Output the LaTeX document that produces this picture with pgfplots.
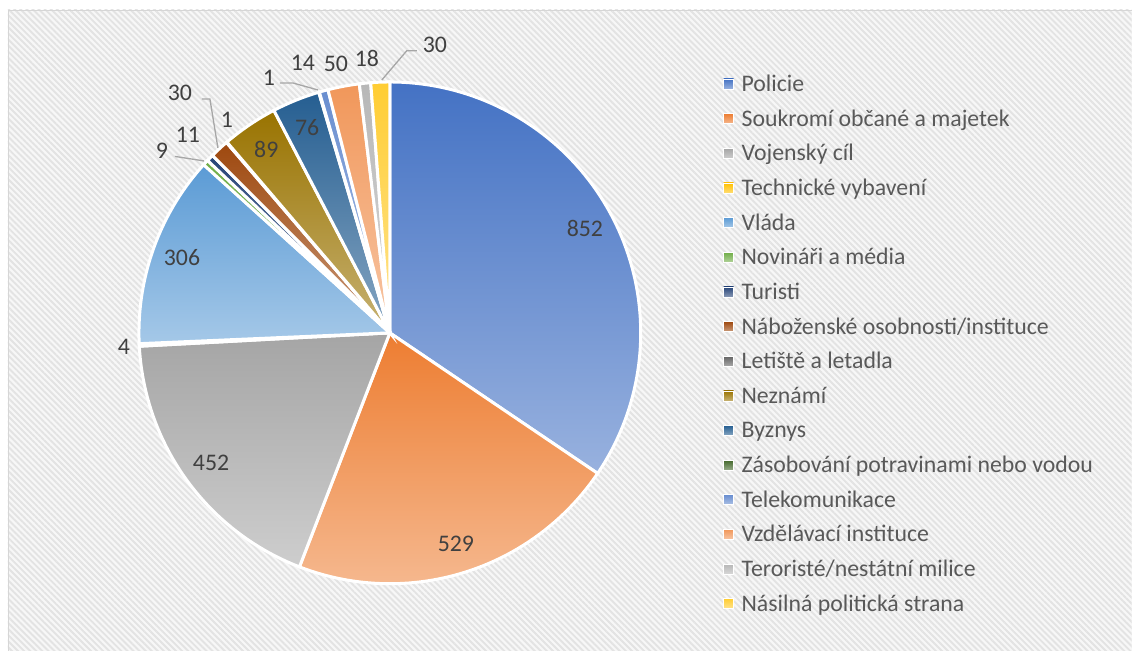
\documentclass[border=0pt]{standalone}
\usepackage{pgfplots}
\pgfplotsset{compat=1.18}
\usepackage{pgfplotstable}
\usepackage{fontspec}
\setmainfont{Carlito}
\usetikzlibrary{patterns.meta}

\definecolor{s0}{HTML}{4472C4}
\definecolor{s1}{HTML}{ED7D31}
\definecolor{s2}{HTML}{A5A5A5}
\definecolor{s3}{HTML}{FFC000}
\definecolor{s4}{HTML}{5B9BD5}
\definecolor{s5}{HTML}{70AD47}
\definecolor{s6}{HTML}{264478}
\definecolor{s7}{HTML}{9E480E}
\definecolor{s8}{HTML}{636363}
\definecolor{s9}{HTML}{997300}
\definecolor{s10}{HTML}{255E91}
\definecolor{s11}{HTML}{43682B}
\definecolor{s12}{HTML}{698ED0}
\definecolor{s13}{HTML}{F1975A}
\definecolor{s14}{HTML}{B7B7B7}
\definecolor{s15}{HTML}{FFCD33}
\definecolor{lbltext}{HTML}{404040}
\definecolor{legtext}{HTML}{595959}
\definecolor{leader}{HTML}{A6A6A6}

\pgfplotstableread[col sep=comma]{
name,value
Policie,852
Soukromí občané a majetek,529
Vojenský cíl,452
Technické vybavení,4
Vláda,306
Novináři a média,9
Turisti,11
Náboženské osobnosti/instituce,30
Letiště a letadla,1
Neznámí,89
Byznys,76
Zásobování potravinami nebo vodou,1
Telekomunikace,14
Vzdělávací instituce,50
Teroristé/nestátní milice,18
Násilná politická strana,30
}\piedata

\pgfplotstablegetrowsof{\piedata}
\pgfmathtruncatemacro\lastrow{\pgfplotsretval-1}
\def\total{0}
\pgfplotsforeachungrouped \i in {0,...,\lastrow}{%
  \pgfplotstablegetelem{\i}{value}\of\piedata
  \pgfmathsetmacro\total{\total+\pgfplotsretval}%
}
\def\cum{0}
\def\wedges{}
\def\inlabels{}
\pgfplotsforeachungrouped \i in {0,...,\lastrow}{%
  \pgfplotstablegetelem{\i}{value}\of\piedata
  \let\myval\pgfplotsretval
  \pgfmathsetmacro\angA{90-(\cum/\total)*360}%
  \pgfmathsetmacro\cum{\cum+\myval}%
  \pgfmathsetmacro\angB{90-(\cum/\total)*360}%
  \pgfmathtruncatemacro\nsamp{max(3,((\angA)-(\angB))/1.5+2)}%
  \pgfmathsetmacro\midang{((\angA)+(\angB))/2}%
  \pgfmathsetmacro\lblx{390+221*cos(\midang)}%
  \pgfmathsetmacro\lbly{318+221*sin(\midang)}%
  \xdef\wedges{\unexpanded\expandafter{\wedges}\noexpand\addplot[draw=white, line width=3bp, top color=s\i, bottom color=s\i!55!white, domain=\angB:\angA, samples=\nsamp] ({390+251*cos(x)},{318+251*sin(x)}) -- (axis cs:390,318) -- cycle;}%
  \ifnum\myval>69
    \xdef\inlabels{\unexpanded\expandafter{\inlabels}\noexpand\node[lbl] at (axis cs:\lblx,\lbly) {\myval};}%
  \fi
}

\tikzset{
  bigfont/.style={font=\fontsize{23.8bp}{28bp}\selectfont},
  lbl/.style={bigfont, text=lbltext, inner sep=0pt, text height=15bp, text depth=0bp, anchor=center},
  legtxt/.style={bigfont, text=legtext, inner sep=0pt, text height=15bp, text depth=0bp, anchor=west},
  ldr/.style={draw=leader, line width=1.3bp}
}

\newcommand\legitem[2]{%
  \path[top color=s#1, bottom color=s#1!55!white, draw=white, line width=0.6bp] (axis cs:724,{562-34.667*#1}) rectangle (axis cs:734,{572-34.667*#1});
  \node[legtxt] at (axis cs:741.7,{567-34.667*#1}) {#2};
}

\begin{document}
\begin{tikzpicture}
\fill[white] (0,0) rectangle (1132bp,651bp);
\fill[white!97!black] (8bp,0) rectangle (1132bp,641bp);
\fill[pattern={Lines[angle=-45,distance=4.3bp,line width=1.9bp]}, pattern color=black!11] (8bp,0) rectangle (1132bp,641bp);
\draw[black!16, line width=1bp] (8.5bp,0) -- (8.5bp,640.5bp) -- (1132bp,640.5bp);
\begin{axis}[at={(0,0)}, anchor=south west, scale only axis, width=1132bp, height=651bp,
  xmin=0, xmax=1132, ymin=0, ymax=651, hide axis, clip=false]
\wedges
\inlabels
% outside labels with leader lines
\node[lbl] at (axis cs:124,304) {4};
\draw[ldr] (axis cs:175,494.5) -- (axis cs:204,490);
\node[lbl] at (axis cs:162,500) {9};
\node[lbl] at (axis cs:188,516) {11};
\draw[ldr] (axis cs:202,552) -- (axis cs:210,552) -- (axis cs:218,503);
\node[lbl] at (axis cs:180,558) {30};
\node[lbl] at (axis cs:227,531) {1};
\draw[ldr] (axis cs:280,568) -- (axis cs:293,568) -- (axis cs:318,561);
\node[lbl] at (axis cs:269,573) {1};
\node[lbl] at (axis cs:303,588) {14};
\node[lbl] at (axis cs:336,587) {50};
\node[lbl] at (axis cs:367,592) {18};
\draw[ldr] (axis cs:382,571) -- (axis cs:407,600.3) -- (axis cs:417,600.3);
\node[lbl] at (axis cs:435,606) {30};
% legend
\legitem{0}{Policie}
\legitem{1}{Soukromí občané a majetek}
\legitem{2}{Vojenský cíl}
\legitem{3}{Technické vybavení}
\legitem{4}{Vláda}
\legitem{5}{Novináři a média}
\legitem{6}{Turisti}
\legitem{7}{Náboženské osobnosti/instituce}
\legitem{8}{Letiště a letadla}
\legitem{9}{Neznámí}
\legitem{10}{Byznys}
\legitem{11}{Zásobování potravinami nebo vodou}
\legitem{12}{Telekomunikace}
\legitem{13}{Vzdělávací instituce}
\legitem{14}{Teroristé/nestátní milice}
\legitem{15}{Násilná politická strana}
\end{axis}
\end{tikzpicture}
\end{document}
